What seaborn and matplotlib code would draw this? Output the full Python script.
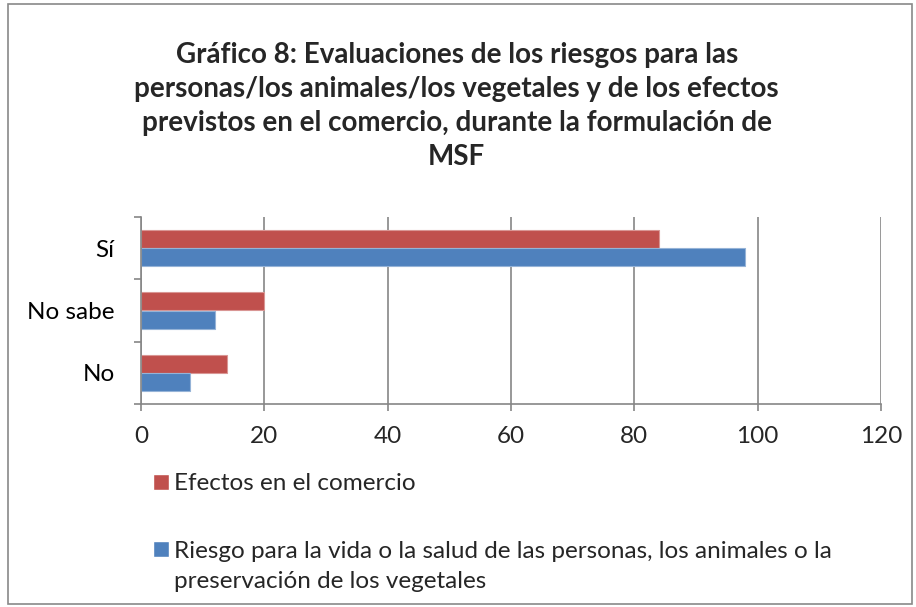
import matplotlib
matplotlib.use("Agg")
import matplotlib.pyplot as plt
import seaborn as sns
import pandas as pd
from matplotlib.patches import Rectangle, Patch

categories = ["Sí", "No sabe", "No"]
series_names = ["Efectos en el comercio",
                "Riesgo para la vida o la salud de las personas, los animales o la preservación de los vegetales"]
efectos = [84, 20, 14]
riesgo = [98, 12, 8]
xticks = [0, 20, 40, 60, 80, 100, 120]
colors = ["#C0504D", "#4F81BD"]
edge_colors = ["#D99694", "#95B3D7"]

rows = []
for c, a, b in zip(categories, efectos, riesgo):
    rows.append({"cat": c, "serie": series_names[0], "val": a})
    rows.append({"cat": c, "serie": series_names[1], "val": b})
df = pd.DataFrame(rows)

sns.set_theme(style="white")
plt.rcParams["font.family"] = ["Lato", "DejaVu Sans"]

W, H = 916, 607
fig = plt.figure(figsize=(W/100, H/100), dpi=100)
ax = fig.add_axes([141/W, 1-404/H, (881-141)/W, (404-217)/H])

sns.barplot(data=df, y="cat", x="val", hue="serie", order=categories,
            hue_order=series_names, palette=colors, orient="h", width=0.58,
            ax=ax, legend=False, saturation=1)
for i, cont in enumerate(ax.containers):
    for bar in cont:
        bar.set_edgecolor(edge_colors[i])
        bar.set_linewidth(0.8)

ax.set_xlim(0, 120)
ax.set_ylim(2.5, -0.5)
ax.set_xticks(xticks)
ax.set_xticklabels([str(t) for t in xticks], fontsize=17.5)
ax.set_yticks([0, 1, 2])
ax.set_yticklabels(categories, fontsize=17.5)
ax.set_yticks([-0.5, 0.5, 1.5, 2.5], minor=True)
ax.set_xlabel("")
ax.set_ylabel("")
ax.grid(axis="x", color="#868686", linewidth=1.2)
ax.set_axisbelow(True)
for s in ["top", "right"]:
    ax.spines[s].set_visible(False)
for s in ["left", "bottom"]:
    ax.spines[s].set_color("#868686")
    ax.spines[s].set_linewidth(1.2)
ax.tick_params(axis="y", which="major", length=0, pad=19, colors="black")
ax.tick_params(axis="y", which="minor", length=5, color="#868686", width=1.2, left=True)
ax.tick_params(axis="x", which="major", length=5, color="#868686", width=1.2, bottom=True, pad=11)

fig.text(0.4985, 1-106/H,
         "Gráfico 8: Evaluaciones de los riesgos para las\n"
         "personas/los animales/los vegetales y de los efectos\n"
         "previstos en el comercio, durante la formulación de\n"
         "MSF",
         ha="center", va="center", fontsize=20, fontweight="bold",
         linespacing=1.38)

labels = [series_names[0],
          "Riesgo para la vida o la salud de las personas, los animales o la"]
cont_line = "preservación de los vegetales"
handles = [Patch(facecolor=colors[0]), Patch(facecolor=colors[1])]
leg = fig.legend(handles, labels, loc="upper left", bbox_to_anchor=(134/W, 1-454/H),
                 frameon=False, fontsize=17.5, handlelength=0.65, handleheight=0.65,
                 handletextpad=0.2, labelspacing=1.9, borderpad=0.3)

fig.canvas.draw()
t2 = leg.get_texts()[1]
bb = t2.get_window_extent()
fig.text(bb.x0/W, (bb.y0 - 30)/H, cont_line, fontsize=17.5, ha="left", va="bottom")

fig.patches.append(Rectangle((8/W, 3/H), 904/W, 600/H, transform=fig.transFigure,
                             fill=False, edgecolor="#898989", linewidth=1.2, figure=fig))

fig.savefig("out.png", dpi=100, facecolor="white")
